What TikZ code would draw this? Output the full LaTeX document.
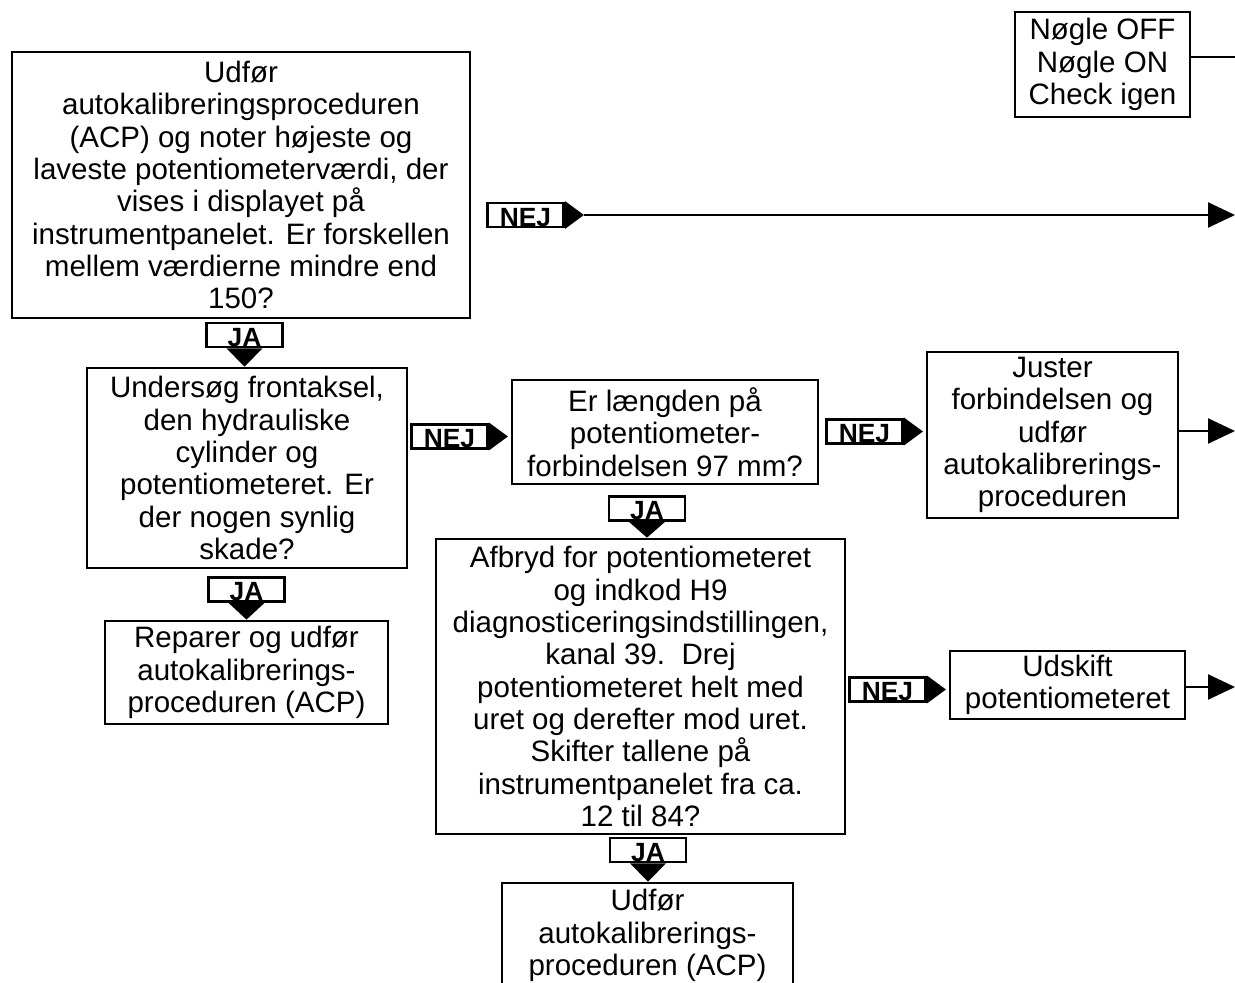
\documentclass[tikz,border=0pt]{standalone}
\usepackage{fontspec}
\setmainfont{Liberation Sans}
\usetikzlibrary{arrows.meta,calc}
\begin{document}
\begin{tikzpicture}[x=0.02cm,y=-0.02cm,
  box/.style={draw, line width=1.6pt, inner sep=0pt, align=center,
    font=\fontsize{16.8}{18.4}\selectfont},
  tag/.style={draw, line width=1.6pt, inner sep=0pt, minimum width=1.52cm,
    minimum height=0.48cm, text height=0.45cm, text depth=0pt,
    font=\fontsize{15}{15}\selectfont\bfseries},
  conn/.style={line width=1.4pt, -{Triangle[length=0.54cm,width=0.5cm]}},
  plain/.style={line width=1.4pt},
]
\useasboundingbox (0,0) rectangle (1235,983);
\clip (0,0) rectangle (1235,983);

% question and action boxes
\node[box, minimum width=9.16cm, minimum height=5.32cm] (acp) at (241,185)
  {Udfør\\autokalibreringsproceduren\\(ACP) og noter højeste og\\laveste potentiometerværdi, der\\vises i displayet på\\instrumentpanelet. Er forskellen\\mellem værdierne mindre end\\150?};
\node[box, minimum width=3.5cm, minimum height=2.1cm] (key) at (1102.5,64.5)
  {Nøgle OFF\\Nøgle ON\\Check igen};
\node[box, minimum width=6.4cm, minimum height=4.0cm] (inspect) at (247,468)
  {Undersøg frontaksel,\\den hydrauliske\\cylinder og\\potentiometeret. Er\\der nogen synlig\\skade?};
\node[box, minimum width=6.12cm, minimum height=2.08cm] (length) at (665,432)
  {Er længden på\\potentiometer-\\forbindelsen 97 mm?};
\node[box, minimum width=5.02cm, minimum height=3.32cm] (adjust) at (1052.5,435)
  {Juster\\forbindelsen og\\udfør\\autokalibrerings-\\proceduren};
\node[box, minimum width=8.18cm, minimum height=5.9cm] (diag) at (640.5,686.5)
  {Afbryd for potentiometeret\\og indkod H9\\diagnosticeringsindstillingen,\\kanal 39.~~Drej\\potentiometeret helt med\\uret og derefter mod uret.\\Skifter tallene på\\instrumentpanelet fra ca.\\12 til 84?};
\node[box, minimum width=5.66cm, minimum height=2.06cm] (repair) at (246.5,672.5)
  {Reparer og udfør\\autokalibrerings-\\proceduren (ACP)};
\node[box, minimum width=4.7cm, minimum height=1.36cm] (replace) at (1067.5,685)
  {Udskift\\potentiometeret};
\node[box, minimum width=5.82cm, minimum height=2.1cm] (final) at (647.5,935.5)
  {Udfør\\autokalibrerings-\\proceduren (ACP)};

% NEJ tags pointing right
\node[tag] (n1) at (525.5,215) {NEJ};
\node[tag] (n2) at (449.5,436.5) {NEJ};
\node[tag] (n3) at (864.5,431.5) {NEJ};
\node[tag] (n4) at (887.5,689.5) {NEJ};
\foreach \t in {n1,n2,n3,n4}
  \fill ($(\t.east)+(0,-14)$) -- ($(\t.east)+(0,14)$) -- ($(\t.east)+(19,0)$) -- cycle;

% JA tags pointing down onto the next box
\node[tag] (j1) at (244.5,335) {JA};
\node[tag] (j2) at (246.5,589.5) {JA};
\node[tag] (j3) at (647,508.5) {JA};
\node[tag] (j4) at (648,850) {JA};
\foreach \t/\b in {j1/inspect,j2/repair,j3/diag,j4/final}
  \fill ($(\t.south)+(-18,0)$) -- ($(\t.south)+(18,0)$) -- (\t.south |- \b.north) -- cycle;

% lines leaving towards the next page
\coordinate (n1tip) at ($(n1.east)+(19,0)$);
\coordinate (out1) at (1235,215);
\coordinate (out2) at (1235,431);
\coordinate (out3) at (1235,687);
\coordinate (out0) at (1235,57);
\draw[conn] (n1tip) -- (out1);
\draw[conn] (adjust.east |- out2) -- (out2);
\draw[conn] (replace.east |- out3) -- (out3);
\draw[plain] (key.east |- out0) -- (out0);
\end{tikzpicture}
\end{document}
